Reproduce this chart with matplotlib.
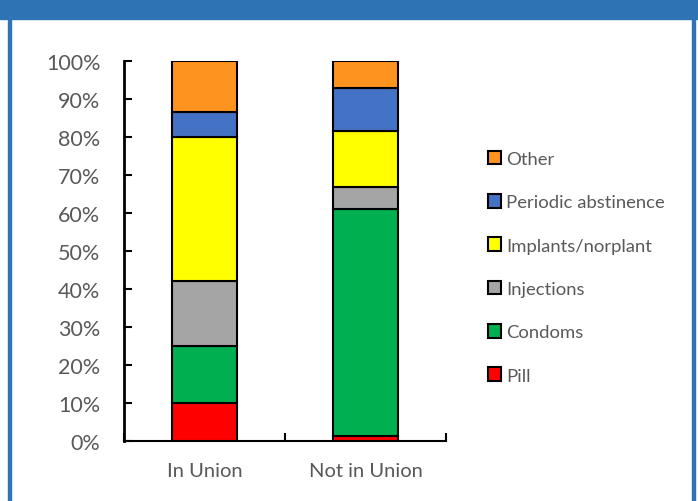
import matplotlib
matplotlib.use("Agg")

import matplotlib.pyplot as plt
from matplotlib.patches import Rectangle

groups = ["In Union", "Not in Union"]
methods = ["Pill", "Condoms", "Injections", "Implants/norplant", "Periodic abstinence", "Other"]
colors = ["#ff0000", "#00b050", "#a5a5a5", "#ffff00", "#4472c4", "#ff9320"]

pill = [9.9, 1.2]
condoms = [15.1, 59.7]
injections = [17.1, 5.9]
implants = [37.7, 14.8]
periodic = [6.7, 11.3]
other = [13.5, 7.1]
series = [pill, condoms, injections, implants, periodic, other]

label_color = "#595959"
plt.rcParams['font.family'] = ['Lato', 'DejaVu Sans']

fig = plt.figure(figsize=(6.98, 5.02), dpi=100)
W, H = 698, 502

# blue frame around the panel
blue = "#2e74b5"
fig.patches.append(Rectangle((0, 1 - 20 / H), 1, 20 / H, transform=fig.transFigure, color=blue, zorder=0))
fig.patches.append(Rectangle((8 / W, 0), 3 / W, 1, transform=fig.transFigure, color=blue, zorder=0))
fig.patches.append(Rectangle((692 / W, 0), 3 / W, 1, transform=fig.transFigure, color=blue, zorder=0))

ax = fig.add_axes([124 / W, 1 - 441.7 / H, 322 / W, 380 / H])

x = range(len(groups))
bottom = [0, 0]
handles = []
for vals, name, col in zip(series, methods, colors):
    b = ax.bar(x, vals, width=0.4, bottom=bottom, color=col, edgecolor="black",
               linewidth=1.5, label=name, zorder=3)
    handles.append(b)
    bottom = [b0 + v for b0, v in zip(bottom, vals)]

ax.set_xlim(-0.5, 1.5)
ax.set_ylim(0, 100)
ax.set_yticks(range(0, 101, 10))
ax.set_yticklabels([f"{t}%" for t in range(0, 101, 10)])
ax.set_xticks(list(x))
ax.set_xticklabels(groups)
ax.set_xticks([-0.5, 0.5, 1.5], minor=True)
ax.tick_params(axis="x", which="major", length=0, pad=15, labelsize=14.5, labelcolor=label_color)
ax.tick_params(axis="x", which="minor", direction="in", length=5.5, width=1.5)
ax.tick_params(axis="y", direction="in", length=5.5, width=1.5, pad=17,
               labelsize=15.5, labelcolor=label_color)

for s in ["top", "right"]:
    ax.spines[s].set_visible(False)
ax.spines["left"].set_linewidth(2)
ax.spines["bottom"].set_linewidth(1.5)

leg = fig.legend(handles[::-1], methods[::-1], loc="upper left",
                 bbox_to_anchor=(471 / W, 1 - 135 / H), frameon=False,
                 fontsize=13.3, labelcolor=label_color, handlelength=0.75,
                 handleheight=0.75, handletextpad=0.25, labelspacing=1.47)

fig.savefig("out.png", dpi=100)
